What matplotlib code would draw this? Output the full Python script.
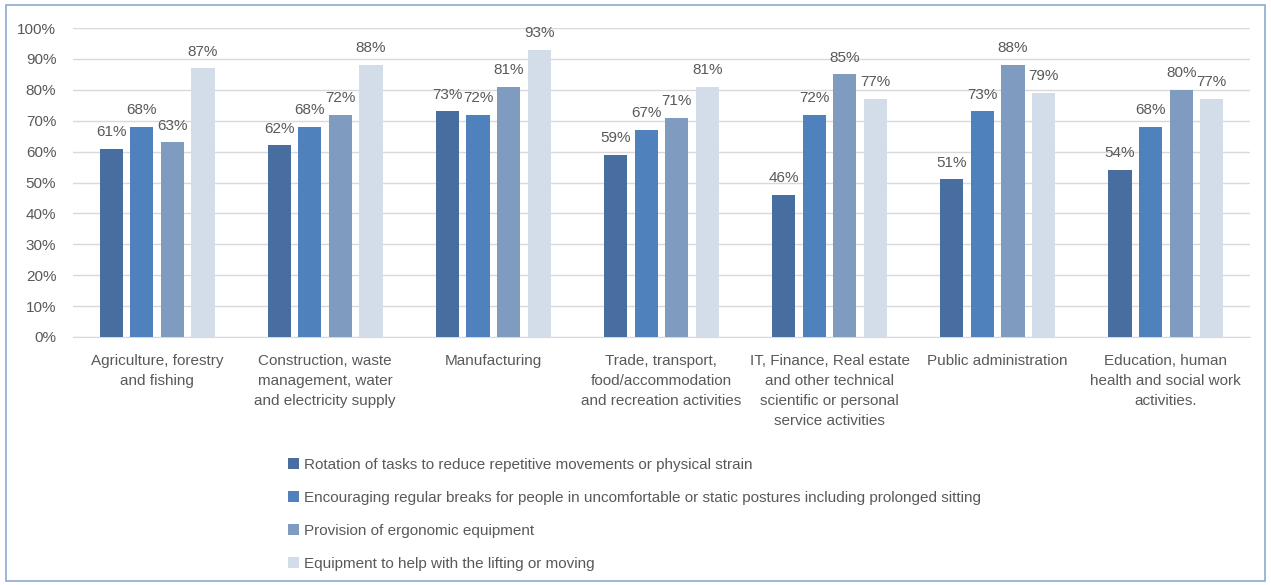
import numpy as np
import matplotlib.pyplot as plt
from matplotlib.patches import Rectangle

categories = [
    "Agriculture, forestry\nand fishing",
    "Construction, waste\nmanagement, water\nand electricity supply",
    "Manufacturing",
    "Trade, transport,\nfood/accommodation\nand recreation activities",
    "IT, Finance, Real estate\nand other technical\nscientific or personal\nservice activities",
    "Public administration",
    "Education, human\nhealth and social work\nactivities.",
]
series_names = [
    "Rotation of tasks to reduce repetitive movements or physical strain",
    "Encouraging regular breaks for people in uncomfortable or static postures including prolonged sitting",
    "Provision of ergonomic equipment",
    "Equipment to help with the lifting or moving",
]
rotation = [61, 62, 73, 59, 46, 51, 54]
breaks = [68, 68, 72, 67, 72, 73, 68]
ergonomic = [63, 72, 81, 71, 85, 88, 80]
lifting = [87, 88, 93, 81, 77, 79, 77]
colors = ["#476E9E", "#4F81BD", "#7F9BC0", "#D3DCE9"]

plt.rcParams["font.family"] = ["Liberation Sans", "DejaVu Sans"]
text_color = "#595959"

fig = plt.figure(figsize=(12.71, 5.85), dpi=100)
ax = fig.add_axes([0.0574, 0.424, 0.926, 0.528])

x = np.arange(len(categories))
step = 0.182
width = 0.138
for i, (vals, name) in enumerate(zip([rotation, breaks, ergonomic, lifting], series_names)):
    pos = x + (i - 1.5) * step
    bars = ax.bar(pos, vals, width, color=colors[i], label=name, zorder=3)
    for b, v in zip(bars, vals):
        ax.annotate(f"{v}%", (b.get_x() + b.get_width() / 2, v), xytext=(0, 7),
                    textcoords="offset points", ha="center", va="bottom",
                    fontsize=11, color=text_color)

ax.set_ylim(0, 100)
ax.set_xlim(-0.5, len(categories) - 0.5)
ax.set_yticks(range(0, 101, 10))
ax.set_yticklabels([f"{t}%" for t in range(0, 101, 10)])
ax.set_xticks(x)
ax.set_xticklabels(categories, linespacing=1.55)
ax.tick_params(axis="both", length=0, labelsize=11, colors=text_color)
ax.tick_params(axis="y", pad=12)
ax.tick_params(axis="x", pad=12)
ax.grid(axis="y", color="#D9D9D9", linewidth=1, zorder=0)
for s in ["top", "right", "left"]:
    ax.spines[s].set_visible(False)
ax.spines["bottom"].set_color("#D9D9D9")

leg = fig.legend(loc="upper left", bbox_to_anchor=(0.216, 0.241), frameon=False,
                 fontsize=11, labelcolor=text_color, handlelength=0.7,
                 handleheight=0.7, handletextpad=0.3, labelspacing=1.25)

fig.patches.append(Rectangle((0.005, 0.006), 0.99, 0.986, transform=fig.transFigure,
                             fill=False, edgecolor="#8FAACC", linewidth=1.2))

fig.savefig("out.png", dpi=100)
